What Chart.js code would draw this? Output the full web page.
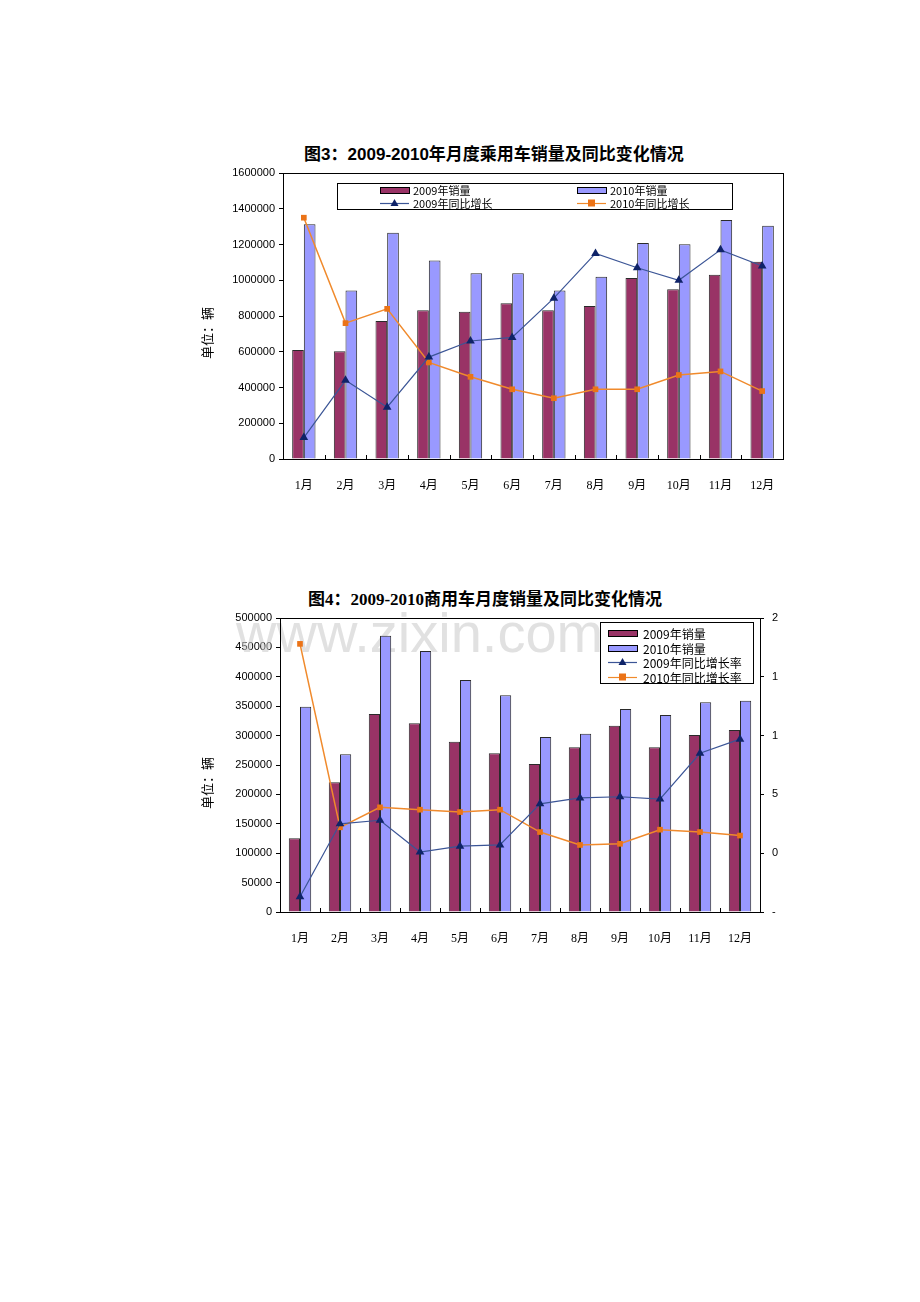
<!DOCTYPE html>
<html lang="zh-CN">
<head>
<meta charset="utf-8">
<title>2009-2010年乘用车与商用车月度销量</title>
<script src="https://cdn.jsdelivr.net/npm/chart.js@4.4.1/dist/chart.umd.min.js"></script>
<style>
  body { margin: 0; background: #fff; }
  #hoja { position: relative; width: 920px; height: 1302px; overflow: hidden; }
  .titulo { position: absolute; white-space: nowrap; font-weight: bold; color: #000; transform: translateX(-50%); line-height: 24px; }
  #titulo1 { left: 494px; top: 143px; font-family: "Liberation Sans", "Noto Sans CJK SC", sans-serif; font-size: 17px; }
  #titulo2 { left: 485px; top: 588px; font-family: "Liberation Serif", "Noto Sans CJK SC", serif; font-size: 17px; }
  canvas { position: absolute; }
  #grafico1 { left: 190px; top: 140px; }
  #grafico2 { left: 190px; top: 580px; }
</style>
</head>
<body>
<div id="hoja">
  <div class="titulo" id="titulo1">图3：2009-2010年月度乘用车销量及同比变化情况</div>
  <canvas id="grafico1" width="600" height="370"></canvas>
  <div class="titulo" id="titulo2">图4：2009-2010商用车月度销量及同比变化情况</div>
  <canvas id="grafico2" width="610" height="370"></canvas>
</div>
<script>
const meses = ["1月", "2月", "3月", "4月", "5月", "6月", "7月", "8月", "9月", "10月", "11月", "12月"];

// 图3 乘用车
const ventas2009Pas = [610000, 603000, 772000, 832000, 824000, 871000, 832000, 856000, 1013000, 949000, 1031000, 1104000];
const ventas2010Pas = [1313000, 942000, 1266000, 1111000, 1039000, 1039000, 942000, 1020000, 1208000, 1201000, 1337000, 1305000];
const crec2009Pas = [-0.08, 0.24, 0.09, 0.37, 0.46, 0.48, 0.70, 0.95, 0.87, 0.80, 0.97, 0.88];
const crec2010Pas = [1.15, 0.56, 0.64, 0.34, 0.26, 0.19, 0.14, 0.19, 0.19, 0.27, 0.29, 0.18];
const ticksPas = [0, 200000, 400000, 600000, 800000, 1000000, 1200000, 1400000, 1600000];

// 图4 商用车
const ventas2009Com = [125300, 220500, 336700, 320900, 289700, 269900, 251700, 280000, 316900, 280000, 301000, 309500];
const ventas2010Com = [349200, 268100, 469900, 443900, 394600, 368500, 297600, 303300, 345200, 335000, 356600, 359400];
const crec2009Com = [-0.37, 0.25, 0.28, 0.01, 0.06, 0.07, 0.42, 0.47, 0.48, 0.46, 0.85, 0.97];
const crec2010Com = [1.78, 0.22, 0.39, 0.37, 0.35, 0.37, 0.18, 0.07, 0.08, 0.20, 0.18, 0.15];
const ticksCom = [0, 50000, 100000, 150000, 200000, 250000, 300000, 350000, 400000, 450000, 500000];
const ticksCrecCom = [-0.5, 0, 0.5, 1, 1.5, 2];

const fuenteEje = "'Liberation Sans', Arial, sans-serif";
const fuenteMes = "'Liberation Serif', 'Noto Sans CJK SC', serif";
const fuenteCjk = "'Noto Sans CJK SC', 'Liberation Sans', sans-serif";

// borde del área y marcas internas entre categorías
const marco = {
  id: "marco",
  afterDatasetsDraw(chart) {
    const { ctx, chartArea } = chart;
    const { left, right, top, bottom } = chartArea;
    ctx.save();
    ctx.strokeStyle = "#000";
    ctx.lineWidth = 1;
    ctx.strokeRect(Math.round(left) + 0.5, Math.round(top) + 0.5, Math.round(right - left), Math.round(bottom - top));
    const n = chart.data.labels.length;
    const ancho = (right - left) / n;
    ctx.beginPath();
    for (let i = 1; i < n; i++) {
      const x = Math.round(left + i * ancho) + 0.5;
      ctx.moveTo(x, bottom);
      ctx.lineTo(x, bottom - 4);
    }
    ctx.stroke();
    ctx.restore();
  },
};

// leyenda dibujada en el lienzo, dentro del área
const leyenda = {
  id: "leyenda",
  afterDraw(chart, args, opts) {
    if (!opts || !opts.w) return;
    const ctx = chart.ctx;
    ctx.save();
    ctx.fillStyle = "#fff";
    ctx.fillRect(opts.x, opts.y, opts.w, opts.h);
    ctx.strokeStyle = "#000";
    ctx.lineWidth = 1;
    ctx.strokeRect(opts.x + 0.5, opts.y + 0.5, opts.w, opts.h);
    ctx.font = opts.fuente;
    ctx.textBaseline = "middle";
    chart.data.datasets.forEach((ds, i) => {
      const col = i % opts.cols;
      const fila = Math.floor(i / opts.cols);
      const mx = opts.x + opts.padX + col * opts.colW;
      const my = Math.round(opts.y + opts.padY + fila * opts.rowH);
      if (ds.type === "bar") {
        ctx.fillStyle = ds.backgroundColor;
        ctx.fillRect(mx, my - 3, 29, 6);
        ctx.strokeStyle = "#000";
        ctx.strokeRect(mx + 0.5, my - 3 + 0.5, 29, 6);
      } else {
        ctx.strokeStyle = ds.borderColor;
        ctx.lineWidth = 1.2;
        ctx.beginPath();
        ctx.moveTo(mx, my + 0.5);
        ctx.lineTo(mx + 29, my + 0.5);
        ctx.stroke();
        ctx.fillStyle = ds.pointBackgroundColor;
        const cx = mx + 14.5;
        if (ds.pointStyle === "triangle") {
          ctx.beginPath();
          ctx.moveTo(cx, my - 4);
          ctx.lineTo(cx + 4, my + 3);
          ctx.lineTo(cx - 4, my + 3);
          ctx.closePath();
          ctx.fill();
        } else {
          ctx.fillRect(cx - 3.5, my - 3.5, 7, 7);
        }
      }
      ctx.fillStyle = "#000";
      ctx.fillText(ds.label, mx + opts.textoDx, my + 1);
    });
    ctx.restore();
  },
};

// texto vertical "单位：辆" y marca de agua
const rotulos = {
  id: "rotulos",
  beforeDatasetsDraw(chart, args, opts) {
    const ctx = chart.ctx;
    ctx.save();
    if (opts.agua) {
      ctx.font = "56px 'Liberation Sans', Arial, sans-serif";
      ctx.fillStyle = "rgba(200,200,200,0.55)";
      ctx.textBaseline = "alphabetic";
      ctx.fillText(opts.agua.texto, opts.agua.x, opts.agua.y);
    }
    if (opts.unidad) {
      ctx.translate(opts.unidad.x, opts.unidad.y);
      ctx.rotate(-Math.PI / 2);
      ctx.font = "13px " + fuenteCjk;
      ctx.fillStyle = "#000";
      ctx.textAlign = "center";
      ctx.textBaseline = "middle";
      ctx.fillText(opts.unidad.texto, 0, 0);
    }
    ctx.restore();
  },
};

const serieBarra = (label, data, color) => ({
  type: "bar",
  label,
  data,
  yAxisID: "y",
  backgroundColor: color,
  borderColor: "#2a2a2a",
  borderWidth: 1,
  categoryPercentage: 0.56,
  barPercentage: 1,
  order: 2,
});

const serieLinea = (label, data, color, punto, estilo) => ({
  type: "line",
  label,
  data,
  yAxisID: "y1",
  borderColor: color,
  borderWidth: estilo === "triangle" ? 1.2 : 1.5,
  tension: 0,
  pointStyle: estilo,
  pointRadius: estilo === "triangle" ? 5 : 4,
  pointBackgroundColor: punto,
  pointBorderColor: punto,
  pointBorderWidth: 0,
  order: 1,
});

const ejeX = (alto) => ({
  grid: { display: false },
  border: { display: false },
  ticks: { color: "#000", padding: 12, maxRotation: 0, autoSkip: false, font: { family: fuenteMes, size: 12 } },
  afterFit: (s) => { s.height = alto; },
});

const ejeY = (ancho, valores, max) => ({
  position: "left",
  min: 0,
  max,
  afterBuildTicks: (s) => { s.ticks = valores.map((v) => ({ value: v })); },
  grid: { drawOnChartArea: false, color: "#000", tickLength: 4 },
  border: { color: "#000" },
  ticks: { color: "#000", padding: 4, font: { family: fuenteEje, size: 11 }, callback: (v) => String(v) },
  afterFit: (s) => { s.width = ancho; },
});

// 图3
new Chart(document.getElementById("grafico1"), {
  data: {
    labels: meses,
    datasets: [
      serieBarra("2009年销量", ventas2009Pas, "#993366"),
      serieBarra("2010年销量", ventas2010Pas, "#9999FF"),
      serieLinea("2009年同比增长", crec2009Pas, "#3B5596", "#0F2368", "triangle"),
      serieLinea("2010年同比增长", crec2010Pas, "#F08A2C", "#EB7317", "rect"),
    ],
  },
  options: {
    responsive: false,
    animation: false,
    devicePixelRatio: 1,
    layout: { padding: { top: 33, right: 7, left: 0, bottom: 0 } },
    scales: {
      x: ejeX(51),
      y: ejeY(93, ticksPas, 1600000),
      y1: { display: false, min: -0.2, max: 1.4 },
    },
    plugins: {
      legend: { display: false },
      tooltip: { enabled: false },
      leyenda: { x: 147, y: 43, w: 395, h: 26, cols: 2, padX: 43, colW: 197, padY: 7, rowH: 13, textoDx: 33, fuente: "11px " + fuenteCjk },
      rotulos: { unidad: { texto: "单位：辆", x: 17, y: 193 } },
    },
  },
  plugins: [marco, leyenda, rotulos],
});

// 图4
new Chart(document.getElementById("grafico2"), {
  data: {
    labels: meses,
    datasets: [
      serieBarra("2009年销量", ventas2009Com, "#993366"),
      serieBarra("2010年销量", ventas2010Com, "#9999FF"),
      serieLinea("2009年同比增长率", crec2009Com, "#3B5596", "#0F2368", "triangle"),
      serieLinea("2010年同比增长率", crec2010Com, "#F08A2C", "#EB7317", "rect"),
    ],
  },
  options: {
    responsive: false,
    animation: false,
    devicePixelRatio: 1,
    layout: { padding: { top: 38, right: 0, left: 0, bottom: 0 } },
    scales: {
      x: ejeX(38),
      y: ejeY(90, ticksCom, 500000),
      y1: {
        position: "right",
        min: -0.5,
        max: 2,
        afterBuildTicks: (s) => { s.ticks = ticksCrecCom.map((v) => ({ value: v })); },
        grid: { drawOnChartArea: false, color: "#000", tickLength: 4 },
        border: { color: "#000" },
        ticks: {
          color: "#000",
          padding: 8,
          font: { family: fuenteEje, size: 11 },
          // etiquetas recortadas como en el original
          callback: (v) => (Math.round(v * 100) + "%").charAt(0),
        },
        afterFit: (s) => { s.width = 40; },
      },
    },
    plugins: {
      legend: { display: false },
      tooltip: { enabled: false },
      leyenda: { x: 410, y: 42, w: 153, h: 61, cols: 1, padX: 8, colW: 0, padY: 11, rowH: 14.7, textoDx: 35, fuente: "12px " + fuenteCjk },
      rotulos: {
        unidad: { texto: "单位：辆", x: 17, y: 203 },
        agua: { texto: "www.zixin.com.cn", x: 46, y: 72 },
      },
    },
  },
  plugins: [marco, leyenda, rotulos],
});
</script>
</body>
</html>
